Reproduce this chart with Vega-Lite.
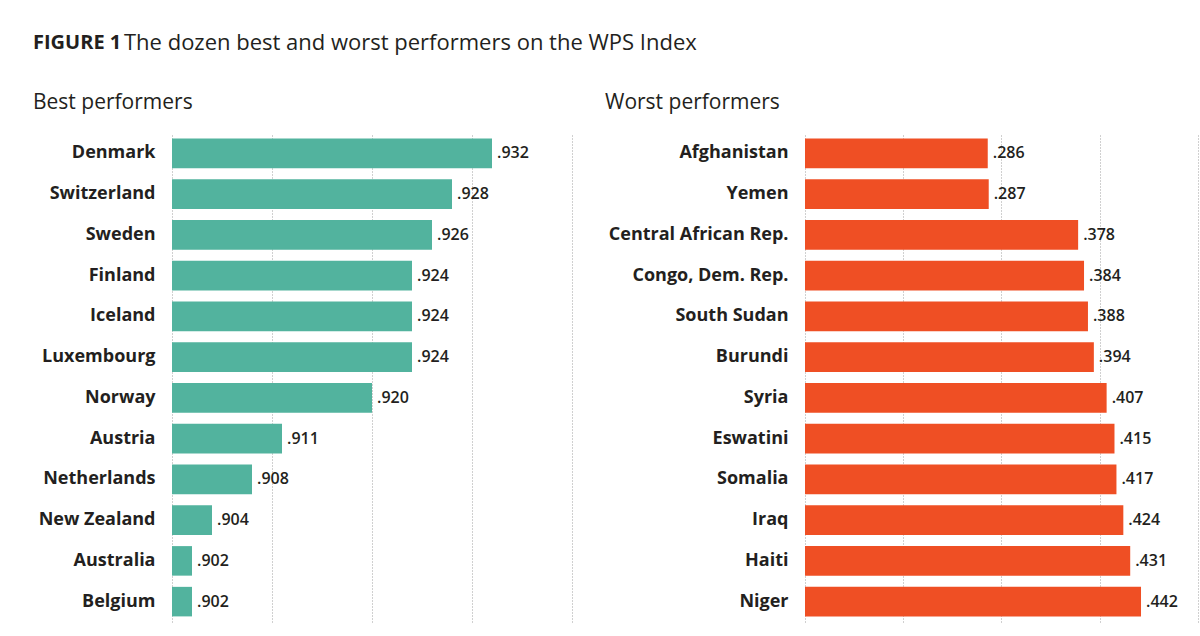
{
  "$schema": "https://vega.github.io/schema/vega-lite/v6.json",
  "background": "white",
  "autosize": {"type": "pad"},
  "padding": {"left": 33, "top": 32, "right": 1, "bottom": 5},
  "datasets": {
    "best": [
      {"country": "Denmark", "score": 0.932},
      {"country": "Switzerland", "score": 0.928},
      {"country": "Sweden", "score": 0.926},
      {"country": "Finland", "score": 0.924},
      {"country": "Iceland", "score": 0.924},
      {"country": "Luxembourg", "score": 0.924},
      {"country": "Norway", "score": 0.920},
      {"country": "Austria", "score": 0.911},
      {"country": "Netherlands", "score": 0.908},
      {"country": "New Zealand", "score": 0.904},
      {"country": "Australia", "score": 0.902},
      {"country": "Belgium", "score": 0.902}
    ],
    "worst": [
      {"country": "Afghanistan", "score": 0.286},
      {"country": "Yemen", "score": 0.287},
      {"country": "Central African Rep.", "score": 0.378},
      {"country": "Congo, Dem. Rep.", "score": 0.384},
      {"country": "South Sudan", "score": 0.388},
      {"country": "Burundi", "score": 0.394},
      {"country": "Syria", "score": 0.407},
      {"country": "Eswatini", "score": 0.415},
      {"country": "Somalia", "score": 0.417},
      {"country": "Iraq", "score": 0.424},
      {"country": "Haiti", "score": 0.431},
      {"country": "Niger", "score": 0.442}
    ]
  },
  "title": {
    "text": "FIGURE 1",
    "anchor": "start",
    "font": "Open Sans",
    "fontSize": 20,
    "fontWeight": "bold",
    "color": "#231f20",
    "dy": 25
  },
  "vconcat": [
    {
      "title": {
        "text": "The dozen best and worst performers on the WPS Index",
        "anchor": "start",
        "font": "Open Sans",
        "fontSize": 22,
        "fontWeight": "normal",
        "color": "#231f20",
        "dx": 91,
        "offset": 37
      },
      "bounds": "flush",
      "spacing": 233,
      "hconcat": [
        {
          "width": 400,
          "height": 489,
          "data": {"name": "best"},
          "title": {
            "text": "Best performers",
            "anchor": "start",
            "frame": "group",
            "dx": -139,
            "offset": 20,
            "font": "Open Sans",
            "fontSize": 21,
            "fontWeight": "normal",
            "color": "#231f20"
          },
          "encoding": {
            "y": {
              "field": "country",
              "type": "nominal",
              "sort": null,
              "scale": {"paddingInner": 0.275, "paddingOuter": 0.1375},
              "axis": {
                "title": null,
                "domain": false,
                "ticks": false,
                "labelPadding": 17,
                "labelFont": "Open Sans",
                "labelFontSize": 18,
                "labelFontWeight": "bold",
                "labelColor": "#231f20",
                "labelLimit": 300
              }
            },
            "x": {
              "field": "score",
              "type": "quantitative",
              "scale": {"domain": [0.9, 0.94], "nice": false, "zero": false},
              "axis": {
                "title": null,
                "labels": false,
                "ticks": false,
                "domain": false,
                "grid": true,
                "values": [0.9, 0.91, 0.92, 0.93, 0.94],
                "gridDash": [1, 2],
                "gridColor": "#a0a0a0",
                "gridWidth": 1
              }
            }
          },
          "layer": [
            {
              "mark": {"type": "bar", "color": "#52b39e"},
              "encoding": {"x2": {"datum": 0.9}}
            },
            {
              "mark": {
                "type": "text",
                "align": "left",
                "baseline": "middle",
                "dx": 5,
                "font": "Open Sans",
                "fontSize": 16,
                "fontWeight": 600,
                "color": "#231f20",
                "text": {"expr": "slice(format(datum.score, '.3f'), 1)"}
              }
            }
          ]
        },
        {
          "width": 393,
          "height": 489,
          "data": {"name": "worst"},
          "title": {
            "text": "Worst performers",
            "anchor": "start",
            "frame": "group",
            "dx": -200,
            "offset": 20,
            "font": "Open Sans",
            "fontSize": 21,
            "fontWeight": "normal",
            "color": "#231f20"
          },
          "encoding": {
            "y": {
              "field": "country",
              "type": "nominal",
              "sort": null,
              "scale": {"paddingInner": 0.275, "paddingOuter": 0.1375},
              "axis": {
                "title": null,
                "domain": false,
                "ticks": false,
                "labelPadding": 17,
                "labelFont": "Open Sans",
                "labelFontSize": 18,
                "labelFontWeight": "bold",
                "labelColor": "#231f20",
                "labelLimit": 300
              }
            },
            "x": {
              "field": "score",
              "type": "quantitative",
              "scale": {"domain": [0.1, 0.5], "nice": false, "zero": false},
              "axis": {
                "title": null,
                "labels": false,
                "ticks": false,
                "domain": false,
                "grid": true,
                "values": [0.1, 0.2, 0.3, 0.4, 0.5],
                "gridDash": [1, 2],
                "gridColor": "#a0a0a0",
                "gridWidth": 1
              }
            }
          },
          "layer": [
            {
              "mark": {"type": "bar", "color": "#ef4f24"},
              "encoding": {"x2": {"datum": 0.1}}
            },
            {
              "mark": {
                "type": "text",
                "align": "left",
                "baseline": "middle",
                "dx": 5,
                "font": "Open Sans",
                "fontSize": 16,
                "fontWeight": 600,
                "color": "#231f20",
                "text": {"expr": "slice(format(datum.score, '.3f'), 1)"}
              }
            }
          ]
        }
      ]
    }
  ],
  "config": {
    "view": {"stroke": null},
    "font": "Open Sans"
  }
}
